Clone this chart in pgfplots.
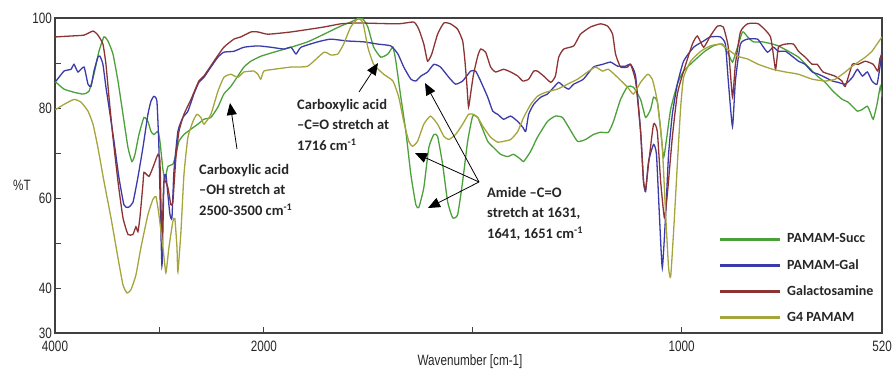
\documentclass[border=0pt]{standalone}
\usepackage{pgfplots}
\pgfplotsset{compat=1.18}
\usepackage{pgfplotstable}
\usepackage{fontspec}
\setmainfont{Carlito}
\newfontfamily\narrowfont[FakeStretch=0.78]{Liberation Sans}
\usetikzlibrary{arrows.meta}
\definecolor{cSucc}{RGB}{76,160,58}
\definecolor{cGal}{RGB}{58,58,170}
\definecolor{cGalac}{RGB}{140,52,52}
\definecolor{cGfour}{RGB}{165,165,62}

\pgfplotstableread{
w t
4000 95.8
3990 95.8
3847 96.0
3722 96.2
3636 97.1
3589 96.2
3541 94.2
3512 89.7
3483 82.4
3445 73.5
3397 63.7
3349 55.6
3301 51.9
3254 51.9
3225 53.6
3206 52.5
3187 55.6
3158 63.0
3148 65.7
3100 64.8
3062 66.8
3014 69.7
2995 68.1
2976 50.7
2957 63.7
2919 62.3
2890 58.5
2871 59.2
2842 69.0
2813 74.8
2765 78.6
2698 81.9
2622 86.0
2574 87.1
2478 90.4
2383 93.5
2287 95.3
2220 95.8
2124 96.9
2057 96.9
1990 96.4
1935 96.9
1856 98.0
1816 98.7
1775 98.9
1679 98.7
1641 99.1
1629 97.5
1617 94.2
1608 90.4
1598 92.0
1584 96.4
1569 98.9
1553 98.7
1536 97.5
1524 94.9
1519 90.9
1514 85.3
1510 80.2
1505 83.1
1498 87.5
1488 91.5
1481 93.1
1469 92.4
1457 89.1
1445 88.0
1426 88.6
1409 88.0
1392 87.1
1380 86.0
1366 86.4
1354 88.2
1345 88.2
1330 87.1
1313 85.7
1302 87.1
1294 91.3
1282 93.1
1258 93.8
1242 96.4
1218 98.0
1194 98.7
1177 98.2
1165 96.4
1158 92.0
1146 89.1
1129 89.1
1122 89.7
1110 86.0
1098 74.8
1091 63.7
1086 61.9
1079 67.5
1067 76.4
1058 74.8
1050 63.7
1041 55.6
1034 60.8
1022 73.5
1010 83.1
995 88.2
974 94.2
962 96.0
947 93.5
931 96.0
914 98.2
900 98.0
888 93.5
878 82.4
871 89.7
859 96.9
842 98.7
816 98.7
787 95.8
775 88.6
768 93.5
751 94.2
732 94.2
720 92.6
704 91.3
687 89.7
675 89.7
661 88.0
633 87.1
616 86.0
608 84.8
591 89.7
577 89.7
560 90.4
541 89.7
530 88.2
525 91.0
520 92.0
}\dataGalac

\pgfplotstableread{
w t
4000 86.0
3990 86.0
3914 88.2
3847 88.6
3818 89.7
3780 88.0
3722 89.1
3684 85.3
3655 84.8
3627 88.2
3589 91.3
3569 91.5
3541 89.7
3512 84.6
3483 80.2
3435 72.6
3388 64.6
3340 58.5
3301 57.9
3254 59.0
3206 64.6
3158 71.2
3110 78.6
3081 81.5
3053 82.6
3024 81.5
3005 71.2
2976 44.9
2957 63.7
2938 65.2
2919 60.8
2899 56.3
2880 55.6
2861 65.9
2823 74.8
2775 77.9
2727 79.3
2670 83.1
2622 85.7
2574 86.8
2507 89.1
2440 91.3
2383 92.4
2287 92.6
2191 93.5
2057 93.8
1983 93.5
1952 93.1
1935 93.5
1923 92.0
1911 93.5
1871 94.7
1840 95.3
1801 94.9
1761 94.7
1727 94.2
1696 93.8
1679 92.0
1665 89.1
1648 86.4
1636 86.0
1624 87.1
1608 88.0
1593 89.7
1577 89.1
1557 86.8
1541 85.3
1524 86.0
1505 88.2
1493 88.2
1481 86.0
1464 82.4
1452 79.3
1440 78.6
1426 77.5
1409 78.2
1392 77.0
1380 75.7
1373 74.8
1366 78.6
1354 80.8
1337 82.4
1321 83.1
1306 84.6
1294 85.7
1282 84.8
1270 84.2
1258 85.3
1235 86.4
1211 89.1
1189 89.7
1170 90.2
1153 89.3
1134 89.3
1122 89.7
1110 87.1
1098 74.8
1091 63.7
1086 61.4
1079 68.1
1067 71.9
1060 69.7
1053 56.3
1046 44.5
1038 56.3
1031 69.7
1022 78.6
1010 85.3
995 90.4
971 93.5
947 94.9
931 95.8
907 95.8
895 94.2
888 86.0
878 75.9
871 86.0
859 94.2
842 95.3
818 95.3
806 93.8
794 92.4
780 93.5
768 92.6
751 92.6
735 91.5
720 90.4
704 89.7
687 88.0
672 87.5
656 86.8
639 86.0
625 85.7
608 85.3
591 86.8
579 88.6
567 87.1
555 88.0
544 86.0
532 85.3
524 89.7
520 93.1
}\dataGal

\pgfplotstableread{
w t
4000 85.7
3990 85.7
3914 84.2
3818 83.5
3732 83.1
3675 83.7
3627 87.5
3579 92.6
3531 95.8
3493 94.9
3445 92.0
3397 86.0
3349 78.6
3301 71.2
3263 68.1
3234 69.7
3196 74.1
3148 77.9
3110 77.0
3081 74.8
3053 74.1
3014 74.8
2995 72.6
2966 66.3
2947 64.1
2919 67.0
2871 67.5
2842 69.7
2813 72.6
2765 74.1
2698 75.3
2632 76.4
2574 77.5
2507 77.9
2440 80.2
2383 83.1
2316 84.8
2249 87.1
2191 89.1
2124 90.4
2029 91.5
1976 92.4
1935 93.5
1895 94.7
1856 96.4
1816 98.2
1792 99.1
1775 99.8
1763 99.8
1751 98.0
1737 93.5
1720 91.3
1703 92.0
1691 93.5
1684 90.4
1672 82.4
1660 74.8
1648 65.2
1636 58.5
1629 57.9
1617 62.3
1605 71.2
1593 74.1
1584 73.7
1572 67.5
1560 59.2
1548 55.6
1536 56.3
1524 63.7
1512 72.6
1500 78.2
1488 77.9
1481 76.4
1464 72.6
1450 71.2
1433 69.7
1416 69.2
1402 69.7
1385 68.6
1378 68.1
1361 70.4
1345 73.5
1321 77.0
1302 78.2
1285 77.9
1270 75.7
1249 72.6
1230 73.0
1211 74.1
1194 74.6
1175 74.6
1163 77.0
1146 81.9
1129 84.8
1115 84.6
1098 81.9
1086 77.9
1074 79.7
1067 82.4
1058 81.5
1050 75.3
1043 69.0
1036 73.0
1026 79.7
1010 85.3
995 88.2
971 90.4
947 92.4
924 93.8
902 94.2
888 92.0
878 90.2
869 92.6
854 96.9
842 95.8
828 94.7
806 94.7
782 94.2
768 93.8
744 92.6
720 91.3
696 89.1
675 87.1
656 85.7
637 83.7
615 81.9
601 81.3
579 79.3
567 79.7
555 80.4
548 79.0
541 77.5
532 80.8
524 84.8
520 82.4
}\dataSucc

\pgfplotstableread{
w t
4000 79.7
3990 79.7
3914 80.8
3818 81.9
3751 81.3
3684 79.3
3636 76.4
3589 71.2
3531 63.7
3464 55.6
3397 46.7
3349 40.7
3311 38.9
3273 39.6
3225 42.9
3177 49.0
3110 56.3
3062 59.7
3033 60.3
3005 56.3
2966 49.0
2938 43.4
2909 49.0
2871 54.8
2852 55.4
2832 49.0
2823 43.6
2794 52.5
2765 65.2
2727 73.5
2679 77.0
2641 78.6
2603 77.9
2574 76.4
2507 78.6
2440 83.7
2383 86.8
2316 87.5
2249 86.8
2191 88.0
2096 88.2
2057 87.5
2029 86.4
2000 88.2
1976 88.6
1935 89.1
1895 89.3
1856 92.4
1840 91.8
1823 92.0
1809 94.2
1792 98.0
1775 99.8
1763 99.1
1751 93.5
1737 89.7
1713 87.5
1691 86.0
1677 82.4
1665 77.0
1653 72.6
1644 71.5
1632 72.6
1617 76.4
1601 78.2
1584 76.4
1569 73.7
1557 73.0
1541 74.1
1524 76.4
1510 78.6
1498 78.6
1488 77.9
1474 75.7
1457 73.5
1440 72.4
1426 72.6
1409 73.0
1392 74.8
1378 77.9
1361 80.8
1345 82.6
1325 83.5
1297 84.2
1273 85.3
1249 86.4
1225 88.0
1206 89.1
1189 88.2
1175 88.6
1153 86.8
1129 84.6
1115 83.1
1098 85.7
1081 87.5
1070 86.4
1058 81.5
1046 71.2
1038 56.3
1031 44.5
1026 42.5
1019 52.5
1010 67.5
1002 80.2
995 86.8
978 90.4
954 92.6
931 93.8
907 94.2
890 93.1
866 91.5
842 90.9
816 89.7
782 88.6
751 88.0
720 87.5
687 86.4
656 86.0
632 86.4
608 88.0
591 89.3
577 90.2
560 91.3
544 92.6
532 94.2
520 95.8
}\dataGfour

\begin{document}
\begin{tikzpicture}
\useasboundingbox (0pt,0pt) rectangle (893pt,375pt);
\begin{axis}[
  at={(55pt,42pt)}, anchor=south west,
  width=827pt, height=315pt, scale only axis,
  xmin=0, xmax=7.92, ymin=30, ymax=100,
  xtick={0,1,2,4,6,7.92}, xticklabels={4000,,2000,,1000,520},
  ytick={30,40,50,60,70,80,90,100}, yticklabels={30,40,,60,,80,,100},
  tick align=inside, tick pos=left,
  major tick length=6pt,
  axis line style={line width=1.6pt, draw=black!75},
  tick style={line width=0.9pt, draw=black!75},
  ticklabel style={font=\narrowfont\fontsize{15}{15}\selectfont, text=black!85},
  /pgf/number format/assume math mode=true,
  xticklabel style={anchor=north, inner sep=0pt, yshift=-8pt},
  yticklabel style={anchor=east, inner sep=0pt, xshift=-3pt},
  clip=true,
  legend style={at={(0.8017,0.322)}, anchor=north west, draw=none, fill=white,
    inner xsep=0pt, inner ysep=0pt, row sep=11pt,
    font=\bfseries\fontsize{14}{14}\selectfont, text=black!85,
    nodes={inner xsep=6pt}},
  legend cell align=left,
  legend image code/.code={\draw[#1, line width=3pt] (0pt,0pt) -- (60pt,0pt);},
  every axis plot/.append style={line width=1.3pt, smooth, tension=0.3},
]
\addplot[cSucc] table[x expr={(4000-\thisrow{w})/1000+0.003*max(0,2000-\thisrow{w})}, y=t]{\dataSucc};
\addlegendentry{PAMAM-Succ}
\addplot[cGal] table[x expr={(4000-\thisrow{w})/1000+0.003*max(0,2000-\thisrow{w})}, y=t]{\dataGal};
\addlegendentry{PAMAM-Gal}
\addplot[cGalac] table[x expr={(4000-\thisrow{w})/1000+0.003*max(0,2000-\thisrow{w})}, y=t]{\dataGalac};
\addlegendentry{Galactosamine}
\addplot[cGfour] table[x expr={(4000-\thisrow{w})/1000+0.003*max(0,2000-\thisrow{w})}, y=t]{\dataGfour};
\addlegendentry{G4 PAMAM}
\end{axis}
% axis titles
\node[font=\narrowfont\fontsize{15}{15}\selectfont, text=black!85] at (22pt,190pt) {\%T};
\node[font=\narrowfont\fontsize{15}{15}\selectfont, text=black!85] at (470pt,13pt) {Wavenumber [cm-1]};
% annotations
\tikzset{ann/.style={font=\bfseries\fontsize{14.5}{20.5}\selectfont, text=black!85, align=left, anchor=north west, inner sep=0pt},
         arr/.style={line width=0.8pt, -{Triangle[length=12pt,width=10pt]}}}
\node[ann] at (199pt,211pt) {Carboxylic acid\\–OH stretch at\\2500-3500 cm\textsuperscript{-1}};
\node[ann] at (297pt,276pt) {Carboxylic acid\\–C=O stretch at\\1716 cm\textsuperscript{-1}};
\node[ann] at (487pt,188pt) {Amide –C=O\\stretch at 1631,\\1641, 1651 cm\textsuperscript{-1}};
\draw[arr] (237pt,226pt) -- (230pt,272pt);
\draw[arr] (359pt,283pt) -- (378pt,312pt);
\draw[arr] (479pt,193pt) -- (425pt,292pt);
\draw[arr] (479pt,193pt) -- (415pt,222pt);
\draw[arr] (479pt,193pt) -- (428pt,167pt);
\end{tikzpicture}
\end{document}
